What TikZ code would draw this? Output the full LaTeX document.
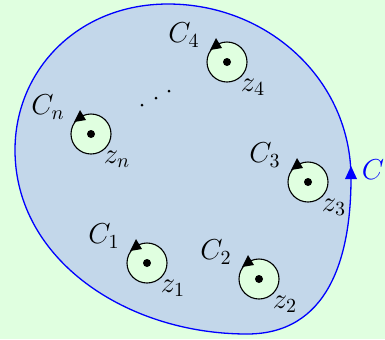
\documentclass[tikz,border=0pt]{standalone}
\usetikzlibrary{calc}
\definecolor{bggreen}{RGB}{224,255,224}
\definecolor{regionblue}{RGB}{195,215,234}
\begin{document}
\begin{tikzpicture}[x=0.5pt,y=-0.5pt,
  hole/.style={circle,draw=black,line width=0.55pt,fill=bggreen,minimum size=20pt,inner sep=0pt},
  lab/.style={font=\fontsize{14.5}{17}\selectfont,inner sep=0pt},
  pics/holearrow/.style={code={\fill[black] (-11,-24) -- (-17,-12) -- (-5,-14) -- cycle;}}]
\fill[bggreen] (0,0) rectangle (385,339);
\useasboundingbox (0,0) rectangle (385,339);
\filldraw[fill=regionblue,draw=blue,line width=0.65pt]
  (168,4) .. controls (268,4) and (351,80) .. (351,178)
  .. controls (351,260) and (327,334) .. (247,334)
  .. controls (127,334) and (15,260) .. (15,150)
  .. controls (15,70) and (78,4) .. (168,4) -- cycle;
\fill[blue] (351,166) -- (345,179) -- (357,179) -- cycle;
\node[lab,text=blue] (lc) at (373,170) {$C$};
\foreach \n/\x/\y in {4/227/62, n/91/134, 3/308/182, 1/147/263, 2/259/279}{
  \node[hole] (c\n) at (\x,\y) {};
  \fill[black] (c\n) circle[radius=2pt];
  \pic at (c\n) {holearrow};
  \node[lab] (lc\n) at ($(c\n)+(-43,-27)$) {$C_\n$};
  \node[lab] (lz\n) at ($(c\n)+(26,25)$) {$z_\n$};
}
\fill[black] (142,105) circle[radius=0.75pt];
\fill[black] (156,98) circle[radius=0.75pt];
\fill[black] (169,91) circle[radius=0.75pt];
\end{tikzpicture}
\end{document}
